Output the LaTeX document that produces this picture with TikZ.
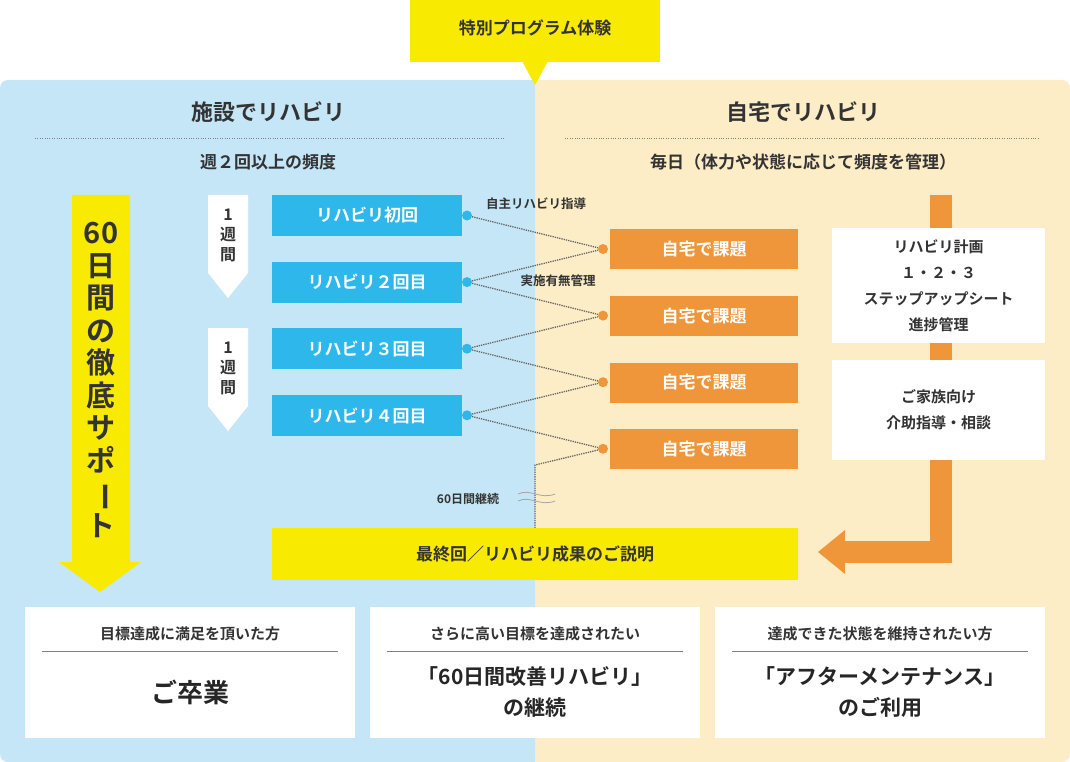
\documentclass[tikz,border=0pt]{standalone}
\usepackage{fontspec}
\setmainfont{Noto Sans CJK JP}
\newfontfamily\jpb{Noto Sans CJK JP Bold}
\definecolor{lblue}{HTML}{C5E6F7}
\definecolor{lcream}{HTML}{FDEDC6}
\definecolor{yel}{HTML}{F8EA00}
\definecolor{bl}{HTML}{2EB7EA}
\definecolor{org}{HTML}{F0963A}
\definecolor{txt}{HTML}{333333}
\begin{document}
\begin{tikzpicture}[x=1pt,y=-1pt,
 bbox/.style={fill=bl,text=white,font=\jpb\fontsize{17}{19}\selectfont,minimum width=190pt,minimum height=41pt,inner sep=0},
 obox/.style={fill=org,text=white,font=\jpb\fontsize{17}{19}\selectfont,minimum width=188pt,minimum height=40pt,inner sep=0},
 wbox/.style={fill=white,text=txt,font=\jpb\fontsize{15}{26}\selectfont,align=center,inner sep=0},
 dotl/.style={densely dotted,draw=gray!80!black,line width=1.3pt},
 lbl/.style={text=txt,font=\jpb\fontsize{12.5}{14}\selectfont},
 bdot/.style={circle,fill=bl,minimum size=10pt,inner sep=0},
 odot/.style={circle,fill=org,minimum size=10pt,inner sep=0}]
\useasboundingbox (0,0) rectangle (1070,762);
\fill[lcream,rounded corners=8pt] (520,80) rectangle (1070,762);
\fill[lblue,rounded corners=8pt] (0,80) rectangle (535,762);
\fill[lblue] (520,80) rectangle (535,762);
% top label
\fill[yel] (410,0) rectangle (660,62);
\fill[yel] (522,61) -- (548,61) -- (535,85) -- cycle;
\node[text=txt,font=\jpb\fontsize{17}{19}\selectfont] (top) at (535,28) {特別プログラム体験};
% headers
\node[text=txt,font=\jpb\fontsize{22}{24}\selectfont] (h1) at (268,112) {施設でリハビリ};
\draw[dotted,gray] (35,138) -- (505,138);
\node[text=txt,font=\jpb\fontsize{17}{19}\selectfont] (s1) at (268,162) {週２回以上の頻度};
\node[text=txt,font=\jpb\fontsize{22}{24}\selectfont] (h2) at (803,112) {自宅でリハビリ};
\draw[dotted,gray] (565,138) -- (1040,138);
\node[text=txt,font=\jpb\fontsize{17}{19}\selectfont] (s2) at (803,162) {毎日（体力や状態に応じて頻度を管理）};
% big arrow
\fill[yel] (72,195) -- (130,195) -- (130,562) -- (141,562) -- (100,592) -- (59,562) -- (72,562) -- cycle;
\node[text=txt,font=\jpb\fontsize{29}{32.5}\selectfont,align=center] (sup) at (101,380) {60\\日\\間\\の\\徹\\底\\サ\\ポ\\\rotatebox[origin=c]{-90}{ー}\\ト};
% week arrows
\foreach \y/\n in {195/w1,328/w2}{
 \fill[white] (208,\y) -- (248,\y) -- (248,\y+78) -- (228,\y+103) -- (208,\y+78) -- cycle;
 \node[text=txt,font=\jpb\fontsize{16}{20}\selectfont,align=center] (\n) at (228,\y+40) {1\\週\\間};}
% blue boxes
\node[bbox] (b1) at (367,215.5) {リハビリ初回};
\node[bbox] (b2) at (367,282) {リハビリ２回目};
\node[bbox] (b3) at (367,348.5) {リハビリ３回目};
\node[bbox] (b4) at (367,415.5) {リハビリ４回目};
\node[obox] (o1) at (704,249) {自宅で課題};
\node[obox] (o2) at (704,316) {自宅で課題};
\node[obox] (o3) at (704,382.5) {自宅で課題};
\node[obox] (o4) at (704,449) {自宅で課題};
\foreach \i in {1,...,4}{
 \node[bdot] (bd\i) at (467,{215.5+66.6*(\i-1)}) {};
 \node[odot] (od\i) at (603,{249+66.6*(\i-1)}) {};}
\draw[dotl] (bd1) -- (od1); \draw[dotl] (bd2) -- (od1);
\draw[dotl] (bd2) -- (od2); \draw[dotl] (bd3) -- (od2);
\draw[dotl] (bd3) -- (od3); \draw[dotl] (bd4) -- (od3);
\draw[dotl] (bd4) -- (od4);
\coordinate (c1) at (535,465);
\node[lbl] (l1) at (536,204) {自主リハビリ指導};
\node[lbl] (l2) at (558,281) {実施有無管理};
\node[lbl,font=\jpb\fontsize{12}{13}\selectfont] (l3) at (468,499) {60日間継続};
% final box
\node[fill=yel,text=txt,font=\jpb\fontsize{17}{19}\selectfont,minimum width=526pt,minimum height=52pt,inner sep=0] (fin) at (535,554) {最終回／リハビリ成果のご説明};
\draw[dotl] (od4) -- (c1) -- (c1 |- fin.north);
\draw[gray!70,line width=0.8pt] (518,494) .. controls (530,488) and (540,500) .. (555,494);
\draw[gray!70,line width=0.8pt] (518,501) .. controls (530,495) and (540,507) .. (555,501);
% right orange line
\fill[org] (930,195) rectangle (952,552);
\fill[org] (845,541) rectangle (952,563);
\fill[org] (845,530) -- (845,574) -- (818,552) -- cycle;
\node[wbox,minimum width=213pt,minimum height=115pt] (p1) at (938.5,285.5) {リハビリ計画\\１・２・３\\ステップアップシート\\進捗管理};
\node[wbox,minimum width=213pt,minimum height=100pt] (p2) at (938.5,410) {ご家族向け\\介助指導・相談};
% bottom boxes
\foreach \x/\n/\a/\b in {190/g1/目標達成に満足を頂いた方/{\fontsize{26}{30}\selectfont ご卒業},535/g2/さらに高い目標を達成されたい/{「60日間改善リハビリ」\\の継続},880/g3/達成できた状態を維持されたい方/{「アフターメンテナンス」\\のご利用}}{
 \fill[white] (\x-165,607) rectangle (\x+165,738);
 \node[text=txt,font=\jpb\fontsize{15}{17}\selectfont] (\n a) at (\x,634) {\a};
 \draw[gray] (\x-148,651) -- (\x+148,651);
 \node[text=black!85,font=\jpb\fontsize{21}{31}\selectfont,align=center] (\n b) at (\x,692) {\b};}
\end{tikzpicture}
\end{document}
